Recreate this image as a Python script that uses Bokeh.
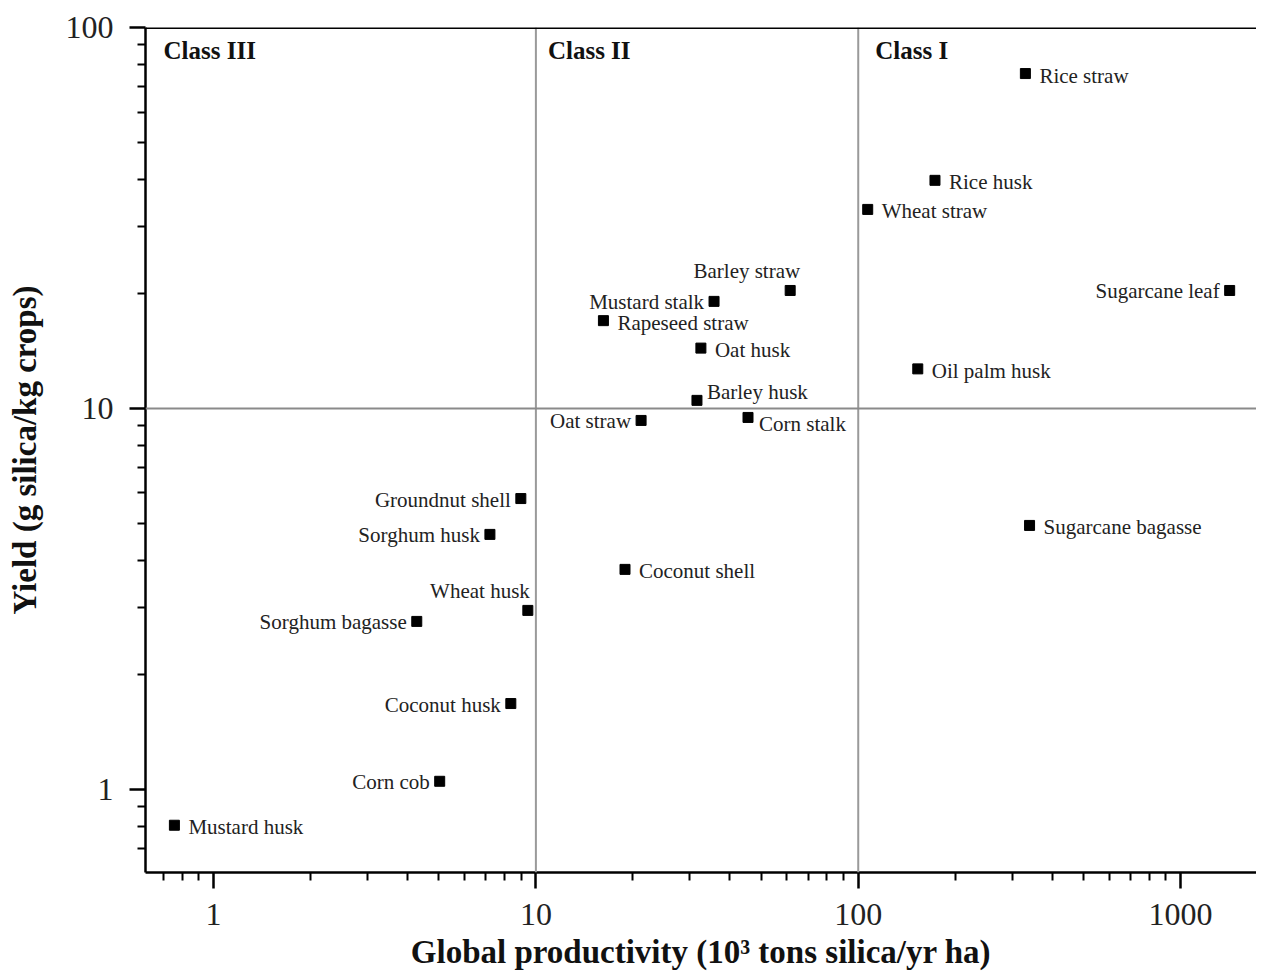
from bokeh.plotting import figure
from bokeh.models import ColumnDataSource, FixedTicker, Span, Range1d
from bokeh.core.properties import value
from bokeh.embed import file_html
from bokeh.resources import INLINE

# ---- data ----
names = ["Rice straw", "Rice husk", "Wheat straw", "Sugarcane leaf", "Barley straw",
         "Mustard stalk", "Rapeseed straw", "Oat husk", "Oil palm husk", "Barley husk",
         "Oat straw", "Corn stalk", "Groundnut shell", "Sugarcane bagasse", "Sorghum husk",
         "Coconut shell", "Wheat husk", "Sorghum bagasse", "Coconut husk", "Corn cob",
         "Mustard husk"]
productivity = [330, 173, 107, 1420, 61.5, 35.7, 16.2, 32.5, 153, 31.6,
                21.2, 45.5, 8.98, 340, 7.2, 18.9, 9.44, 4.27, 8.36, 5.03, 0.756]
silica_yield = [75.7, 39.7, 33.3, 20.4, 20.4, 19.1, 17.0, 14.4, 12.7, 10.5,
                9.3, 9.47, 5.8, 4.93, 4.67, 3.78, 2.95, 2.76, 1.68, 1.05, 0.805]
label_side = ["r", "r", "r", "l", "ua", "l", "r", "r", "r", "ur",
              "l", "dr", "l", "r", "l", "r", "ub", "l", "l", "l", "r"]

x_ticks = [1, 10, 100, 1000]
y_ticks = [1, 10, 100]
class_names = ["Class III", "Class II", "Class I"]
class_bounds = [10, 100]

X_START, X_END = 0.615, 1720
Y_START, Y_END = 0.605, 100

# ---- label placement styles ----
place = {"r": (14, 2, "left"), "l": (-10, 1, "right"), "ua": (10, -19, "right"),
         "ub": (2, -19, "right"), "ur": (10, -8, "left"), "dr": (11, 7, "left")}

src = ColumnDataSource(dict(
    x=productivity, y=silica_yield, name=names,
    dx=[place[s][0] for s in label_side],
    dy=[place[s][1] for s in label_side],
    align=[place[s][2] for s in label_side],
))

FONT = "Liberation Serif"

p = figure(x_axis_type="log", y_axis_type="log",
           x_range=Range1d(X_START, X_END), y_range=Range1d(Y_START, Y_END),
           frame_width=1111, frame_height=845,
           min_border_left=145, min_border_top=27, min_border_right=0, min_border_bottom=10,
           output_backend="svg", toolbar_location=None)
p.outline_line_color = None
p.xgrid.visible = False
p.ygrid.visible = False

# reference lines
for b in class_bounds:
    p.add_layout(Span(location=b, dimension="height", line_color="#9a9a9a", line_width=2))
p.add_layout(Span(location=10, dimension="width", line_color="#8a8a8a", line_width=2))
p.add_layout(Span(location=Y_END, dimension="width", line_color="black", line_width=3))

# points
p.scatter("x", "y", source=src, marker="square", size=10, color="black")
p.text("x", "y", text="name", source=src, x_offset="dx", y_offset="dy",
       text_align="align", text_baseline="middle",
       text_font=value(FONT), text_font_size="21px", text_color="#222222")

# class labels
cls_src = ColumnDataSource(dict(x=[X_START] + class_bounds, y=[Y_END] * 3,
                                t=class_names, dx=[18, 12, 17]))
p.text("x", "y", text="t", source=cls_src, x_offset="dx", y_offset=23,
       text_align="left", text_baseline="middle", text_font=value(FONT),
       text_font_style="bold", text_font_size="25px", text_color="#111111")

minor_x = [m * 10 ** e for e in range(-1, 4) for m in range(2, 10)]
minor_y = [m * 10 ** e for e in range(-1, 2) for m in range(2, 10)]
p.xaxis.ticker = FixedTicker(ticks=x_ticks, minor_ticks=minor_x)
p.yaxis.ticker = FixedTicker(ticks=y_ticks, minor_ticks=minor_y)
p.xaxis.major_label_overrides = {t: str(t) for t in x_ticks}
p.yaxis.major_label_overrides = {t: str(t) for t in y_ticks}

for ax in (p.xaxis[0], p.yaxis[0]):
    ax.axis_line_width = 2.5
    ax.axis_line_color = "black"
    ax.major_tick_line_width = 2.5
    ax.minor_tick_line_width = 2
    ax.major_tick_out = 16
    ax.major_tick_in = 0
    ax.minor_tick_out = 8
    ax.minor_tick_in = 0
    ax.major_label_text_font = FONT
    ax.major_label_text_font_size = "32px"
    ax.major_label_text_color = "#222222"
    ax.axis_label_text_font = FONT
    ax.axis_label_text_font_style = "bold"
    ax.axis_label_text_font_size = "33px"
    ax.axis_label_text_color = "#111111"

p.xaxis.axis_label = "Global productivity (10³ tons silica/yr ha)"
p.yaxis.axis_label = "Yield (g silica/kg crops)"
p.xaxis.major_label_standoff = 15
p.xaxis.axis_label_standoff = 6
p.yaxis.major_label_standoff = 16
p.yaxis.axis_label_standoff = 20

open("out.html", "w").write(file_html(p, INLINE))
